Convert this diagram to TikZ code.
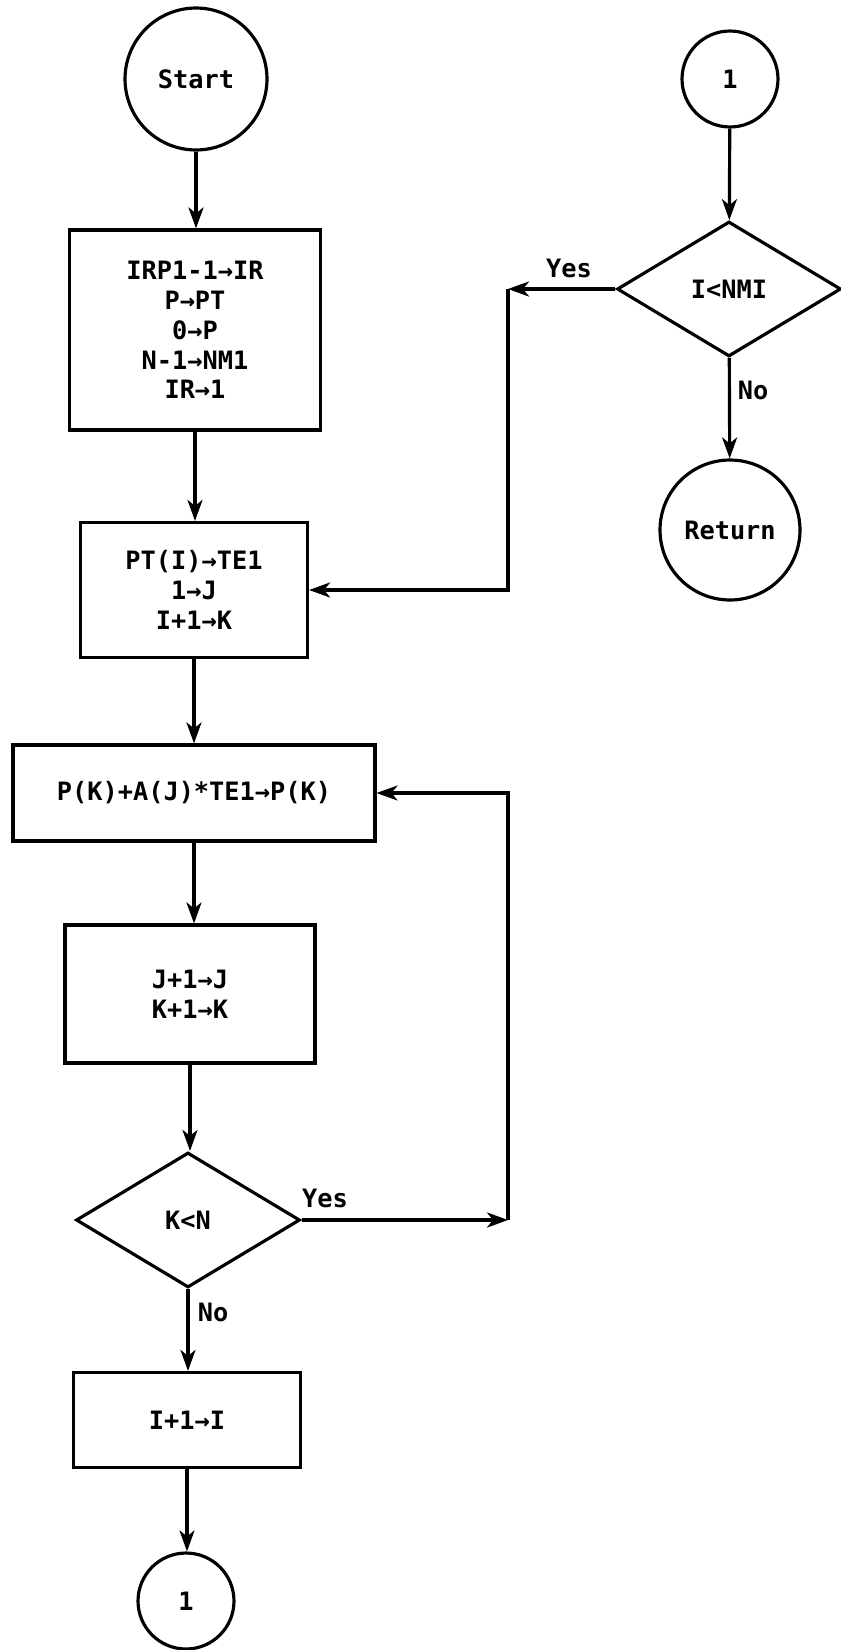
\documentclass[tikz,border=0pt]{standalone}
\usepackage{fontspec}
\setmainfont{DejaVu Sans Mono}
\usetikzlibrary{shapes.geometric,arrows.meta}

\begin{document}
\begin{tikzpicture}[x=0.02cm,y=-0.02cm,line width=1.8pt,
	txt/.style={font=\fontsize{14.4}{17}\selectfont\bfseries},
	terminal/.style={draw,circle,txt,inner sep=0pt,minimum size=#1},
	procbox/.style={draw,rectangle,txt,align=center,inner sep=0pt},
	decision/.style={draw,diamond,txt,inner sep=0pt,minimum width=4.48cm,minimum height=2.7cm},
	flow/.style={-{Stealth[length=0.42cm,width=0.3cm,inset=0.12cm]}}]
					\useasboundingbox (0,0) rectangle (841,1650);
					\node[terminal=2.84cm] (start) at (196,79) {Start};
					\node[procbox,minimum width=5.02cm,minimum height=4cm] (init) at (195,330) {IRP1-1→IR\\P→PT\\0→P\\N-1→NM1\\IR→1};
					\node[procbox,minimum width=4.54cm,minimum height=2.7cm] (setj) at (194,590) {PT(I)→TE1\\1→J\\I+1→K};
					\node[procbox,minimum width=7.24cm,minimum height=1.92cm] (accum) at (194,793) {P(K)+A(J)*TE1→P(K)};
					\node[procbox,minimum width=5cm,minimum height=2.76cm] (incjk) at (190,994) {J+1→J\\K+1→K};
					\node[decision] (testk) at (188,1220) {K<N};
					\node[procbox,minimum width=4.54cm,minimum height=1.9cm] (inci) at (187,1420) {I+1→I};
					\node[terminal=1.92cm] (conb) at (186,1601) {1};
					\node[terminal=1.92cm] (cont) at (730,79) {1};
					\node[decision] (testi) at (729,289) {I<NMI};
					\node[terminal=2.8cm] (ret) at (730,530) {Return};
					\coordinate (yesi) at (508,289);
					\coordinate (yesk) at (508,1220);
					\node[txt] (lyesi) at (569,268) {Yes};
					\node[txt] (lnoi) at (753,390) {No};
					\node[txt] (lyesk) at (325,1198) {Yes};
					\node[txt] (lnok) at (213,1312) {No};
					\draw[flow] (start) -- (start |- init.north);
					\draw[flow] (init) -- (init |- setj.north);
					\draw[flow] (setj) -- (setj |- accum.north);
					\draw[flow] (accum) -- (accum |- incjk.north);
					\draw[flow] (incjk) -- (incjk |- testk.north);
					\draw[flow] (testk) -- (testk |- inci.north);
					\draw[flow] (inci) -- (inci |- conb.north);
					\draw[flow] (cont) -- (testi);
					\draw[flow] (testi) -- (ret);
					\draw[flow] (testi) -- (yesi);
					\draw[flow] (yesi) |- (setj);
					\draw[flow] (testk) -- (yesk);
					\draw[flow] (yesk) |- (accum);
				\end{tikzpicture}
\end{document}
